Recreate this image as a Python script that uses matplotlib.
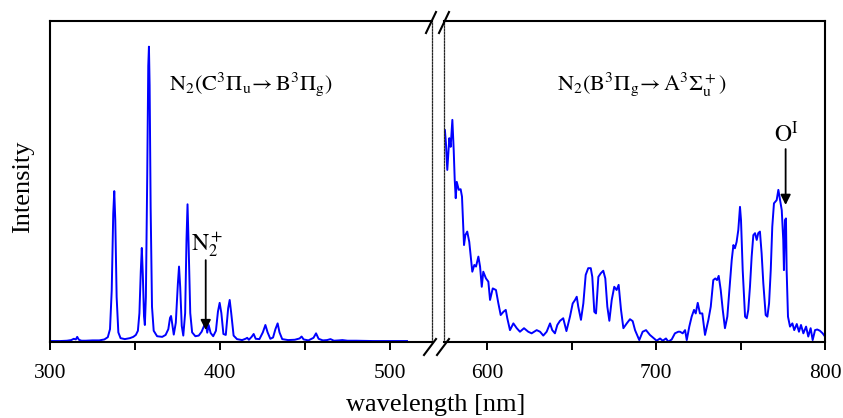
import matplotlib
matplotlib.use('Agg')
import matplotlib.pyplot as plt
from matplotlib.lines import Line2D

plt.rcParams['font.family'] = ['Liberation Serif', 'DejaVu Serif']
plt.rcParams['mathtext.fontset'] = 'stix'

# ---- data ----
uv_wavelength = [300, 306, 310, 312.5, 314, 315.2, 316, 317, 318.5, 321,
                 325, 329, 332, 334, 335.3, 336.3, 337.2, 337.8, 338.4, 339.2,
                 340.2, 341.5, 344, 347, 349, 350.5, 351.7, 352.6, 353.4, 354,
                 354.6, 355.3, 355.8, 356.4, 357.2, 357.8, 358.2, 358.6, 359.2, 360,
                 361, 363, 366, 368, 369.6, 370.6, 371.2, 371.8, 372.8, 374,
                 375.2, 375.9, 376.6, 377.5, 378.4, 379.5, 380.3, 380.9, 381.5, 382.5,
                 383.6, 385.5, 387.5, 389.2, 390.6, 391.6, 392.5, 393.3, 394.5, 396,
                 397.6, 398.8, 399.8, 400.8, 402, 403.4, 404.8, 405.7, 406.6, 408,
                 410, 413, 415, 416, 417, 418.6, 419.8, 421, 423.2, 425.2,
                 426.7, 428, 429.6, 431.2, 432.6, 433.9, 435, 436.6, 440, 444,
                 446.8, 448, 449.2, 452, 455, 456.5, 458, 460.5, 463, 465,
                 467, 470, 472, 475, 480, 490, 500, 510]
uv_intensity = [0.3, 0.3, 0.4, 0.6, 1.0, 0.8, 1.6, 0.7, 0.4, 0.4,
                0.5, 0.5, 0.8, 1.5, 4, 16, 40, 47, 38, 14,
                3, 1.2, 0.9, 1.2, 1.6, 2.2, 3.5, 9, 22, 29.3,
                21, 8, 5.3, 14, 52, 86, 92, 80, 42, 11,
                3.5, 1.8, 1.6, 2.2, 4, 7.5, 8.1, 6, 2.3, 6,
                18, 23.5, 17, 5, 2, 9, 32, 42.9, 31, 9,
                3, 1.8, 2, 3.2, 5, 5.9, 2.9, 5.3, 2.8, 1.8,
                3.5, 9.5, 12.2, 9, 2.5, 2.2, 10.5, 13.1, 9, 2,
                0.9, 0.6, 1.0, 1.3, 0.7, 1.6, 2.5, 1.0, 0.9, 3,
                5.3, 3, 1.0, 1.4, 4, 5.8, 3, 0.9, 0.6, 0.7,
                1.1, 1.7, 0.8, 0.5, 1.3, 2.7, 1.0, 0.5, 0.6, 0.9,
                0.4, 0.5, 0.6, 0.4, 0.4, 0.3, 0.3, 0.3]

vis_wavelength = [575.1, 575.7, 576.5, 577.7, 578.5, 579.5, 580.3, 580.9, 581.5, 582.1,
                  583.3, 584.4, 585.2, 586.4, 587.2, 588.3, 589.5, 590.4, 591.3, 592.5,
                  593.5, 594.9, 595.9, 596.9, 597.8, 599.4, 600.8, 601.8, 603.4, 605.3,
                  606.7, 608.1, 609.7, 611.1, 612.0, 613.6, 615.6, 617.6, 619.5, 621.9,
                  624.4, 626.4, 629.4, 631.4, 633.3, 635.3, 637.3, 638.6, 640.2, 641.6,
                  643.2, 645.1, 647.0, 649.1, 650.7, 652.1, 653.1, 654.0, 655.6, 657.0,
                  658.4, 659.9, 661.4, 662.3, 663.5, 664.5, 665.9, 667.3, 668.8, 670.0,
                  671.2, 672.4, 673.8, 675.3, 676.7, 677.9, 679.3, 680.7, 682.7, 684.6,
                  686.2, 687.6, 690.1, 692.1, 694.1, 696.4, 698.4, 700.4, 702.4, 704.0,
                  705.9, 707.3, 709.3, 711.2, 713.2, 714.2, 715.8, 717.2, 718.2, 719.7,
                  721.1, 722.5, 723.5, 724.7, 726.0, 727.4, 729.0, 731.0, 732.4, 733.9,
                  735.1, 736.1, 737.1, 738.3, 739.5, 740.8, 742.2, 743.4, 744.8, 745.8,
                  746.7, 747.7, 748.7, 749.7, 750.3, 751.3, 752.7, 753.7, 754.6, 755.6,
                  756.6, 757.6, 758.6, 759.6, 760.5, 761.5, 762.5, 763.5, 764.9, 765.9,
                  766.9, 767.9, 768.8, 769.8, 771.4, 772.4, 773.4, 774.4, 775.3, 775.7,
                  776.3, 776.9, 777.3, 778.1, 779.3, 780.7, 781.8, 783.3, 784.6, 785.8,
                  787.2, 788.8, 790.1, 791.5, 792.7, 794.1, 795.4, 797.0, 798.6, 800.0]
vis_intensity = [66.0, 61.9, 53.6, 63.5, 60.8, 69.2, 59.8, 50.5, 44.8, 49.9,
                 47.4, 47.6, 45.3, 30.2, 33.3, 34.4, 31.2, 26.6, 21.9, 24.0,
                 23.5, 26.6, 23.5, 17.2, 21.9, 19.8, 18.8, 13.1, 16.7, 16.2,
                 12.1, 8.4, 9.4, 10.0, 7.4, 3.7, 5.8, 4.3, 3.2, 4.3,
                 3.2, 2.7, 3.7, 3.2, 2.0, 3.2, 5.8, 3.7, 2.7, 5.3,
                 6.6, 7.4, 3.4, 7.9, 12.0, 13.1, 14.1, 11.0, 6.9, 12.0,
                 20.9, 23.0, 23.0, 20.3, 9.4, 8.9, 20.3, 21.4, 22.2, 19.8,
                 11.0, 6.6, 13.1, 17.2, 16.2, 17.8, 10.0, 4.3, 5.8, 7.1,
                 6.5, 3.7, 0.6, 3.2, 3.7, 2.2, 1.3, 0.4, 1.1, 0.4,
                 1.1, 0.1, 0.8, 2.7, 3.2, 3.2, 2.7, 3.7, 0.6, 4.8,
                 7.9, 10.0, 8.9, 12.2, 8.9, 8.9, 2.2, 6.9, 11.0, 19.3,
                 19.8, 19.3, 20.6, 16.2, 10.0, 4.3, 7.9, 16.2, 25.5, 30.2,
                 29.2, 31.2, 34.9, 42.1, 38.0, 22.4, 7.9, 7.4, 10.0, 17.2,
                 26.6, 33.3, 33.9, 31.8, 33.9, 34.4, 27.6, 18.3, 8.4, 7.9,
                 12.0, 22.4, 35.9, 43.2, 44.2, 47.4, 44.2, 41.1, 31.8, 22.4,
                 38.0, 38.5, 22.4, 7.9, 4.8, 5.8, 3.7, 5.6, 3.2, 5.3,
                 2.7, 4.8, 1.7, 4.3, 0.6, 3.7, 3.9, 3.5, 2.7, 1.7]

left_ticks = [300, 400, 500]
left_minor = [350, 450]
right_ticks = [600, 700, 800]
right_minor = [650, 750]

# ---- layout ----
W, H = 843, 418
fig = plt.figure(figsize=(W / 100, H / 100), dpi=100)

def fx(px):
    return px / W

def fy(py):
    return 1 - py / H

top, bot = 21, 342
ax1 = fig.add_axes([fx(50), fy(bot), (432 - 50) / W, (bot - top) / H])
ax2 = fig.add_axes([fx(444), fy(bot), (825 - 444) / W, (bot - top) / H])

line_kw = dict(color='#0000ff', lw=1.4)
ax1.plot(uv_wavelength, uv_intensity, **line_kw)
ax2.plot(vis_wavelength, vis_intensity, **line_kw)

ax1.set_xlim(300, 300 + 382 / 1.7)
ax2.set_xlim(600 - 43 / 1.69, 800)
for ax in (ax1, ax2):
    ax.set_ylim(0, 100)
    ax.set_yticks([])
    for s in ax.spines.values():
        s.set_linewidth(1.5)
    ax.tick_params(axis='x', which='both', direction='out', length=6,
                   width=1.4, labelsize=15.5, pad=10)

ax1.set_xticks(left_ticks)
ax1.set_xticks(left_minor, minor=True)
ax2.set_xticks(right_ticks)
ax2.set_xticks(right_minor, minor=True)

for sp in (ax1.spines['right'], ax2.spines['left']):
    sp.set_linestyle((0, (1.2, 1.2)))
    sp.set_linewidth(0.9)
    sp.set_color('0.15')

# break marks
for (x0, y0, x1, y1) in [(426, 33, 436, 12), (439, 33, 449, 12),
                         (424, 355, 436, 339), (437, 355, 449, 339)]:
    fig.add_artist(Line2D([fx(x0), fx(x1)], [fy(y0), fy(y1)],
                          transform=fig.transFigure, color='k', lw=1.5))

# axis labels
fig.text(fx(436), fy(411), 'wavelength [nm]', ha='center', va='baseline', fontsize=19)
fig.text(fx(23), fy(187), 'Intensity', rotation=90, ha='center', va='center', fontsize=19)

# band labels
fig.text(fx(251), fy(90), r'$\mathrm{N_2(C^3\Pi_u\!\rightarrow B^3\Pi_g)}$',
         ha='center', va='baseline', fontsize=16)
fig.text(fx(642), fy(90), r'$\mathrm{N_2(B^3\Pi_g\!\rightarrow A^3\Sigma_u^+)}$',
         ha='center', va='baseline', fontsize=16)

# line markers with arrows
arrow_kw = dict(arrowstyle='-|>', color='k', lw=1.3, mutation_scale=15,
                shrinkA=0, shrinkB=0)
ax1.annotate('', xy=(391.6, 3.7), xytext=(391.6, 25.5), arrowprops=arrow_kw)
fig.text(fx(207), fy(250), r'$\mathrm{N_2^+}$', ha='center', va='baseline', fontsize=17)
ax2.annotate('', xy=(776.7, 42.7), xytext=(776.7, 60.1), arrowprops=arrow_kw)
fig.text(fx(786), fy(142), r'$\mathrm{O^I}$', ha='center', va='baseline', fontsize=17)

fig.savefig('out.png', dpi=100)
